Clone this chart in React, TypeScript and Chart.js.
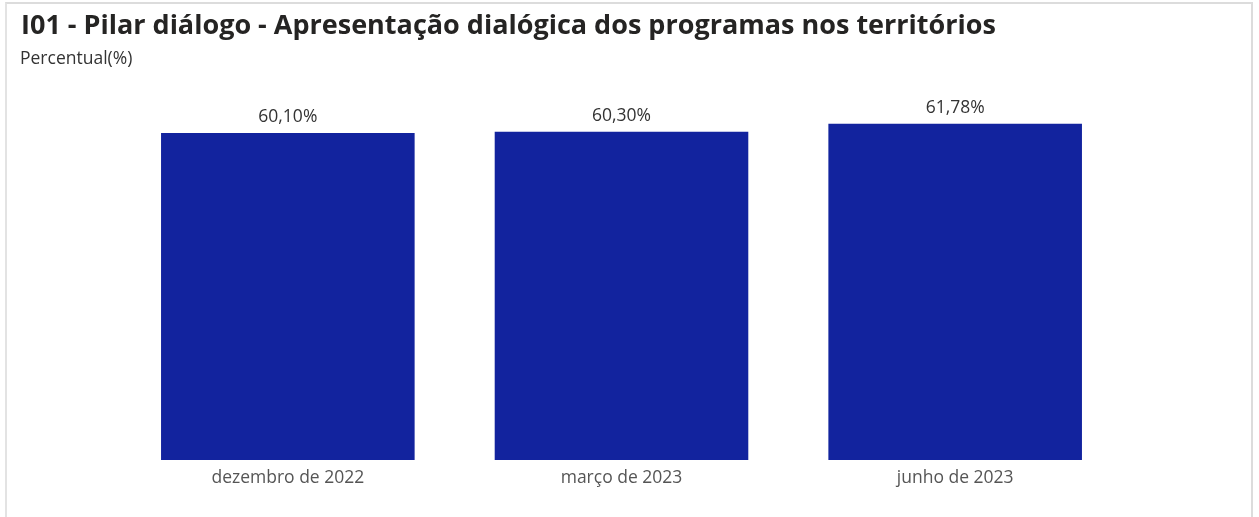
import React, { useEffect, useRef } from "react";
import { Chart, registerables } from "chart.js";

Chart.register(...registerables);

const TITLE = "I01 - Pilar diálogo - Apresentação dialógica dos programas nos territórios";
const SUBTITLE = "Percentual(%)";
const categories = ["dezembro de 2022", "março de 2023", "junho de 2023"];
const values = [60.1, 60.3, 61.78];
const valueLabels = ["60,10%", "60,30%", "61,78%"];

const FONT = "'Open Sans', 'Noto Sans', sans-serif";

const dataLabelPlugin = {
  id: "dataLabels",
  afterDatasetsDraw(chart: any) {
    const ctx = chart.ctx;
    const meta = chart.getDatasetMeta(0);
    ctx.save();
    ctx.font = `17.5px ${FONT}`;
    ctx.fillStyle = "#333333";
    ctx.textAlign = "center";
    ctx.textBaseline = "middle";
    meta.data.forEach((bar: any, i: number) => {
      ctx.fillText(valueLabels[i], bar.x, bar.y - 16);
    });
    ctx.restore();
  },
};

export default function App() {
  const ref = useRef<HTMLCanvasElement>(null);
  useEffect(() => {
    if (!ref.current) return;
    const chart = new Chart(ref.current, {
      type: "bar",
      data: {
        labels: categories,
        datasets: [
          {
            data: values,
            backgroundColor: "#12239E",
            borderWidth: 0,
            barPercentage: 0.76,
            categoryPercentage: 1,
          },
        ],
      },
      options: {
        animation: false,
        responsive: false,
        maintainAspectRatio: false,
        layout: { padding: { left: 121, right: 137, top: 79, bottom: 20 } },
        plugins: {
          legend: { display: false },
          tooltip: { enabled: false },
          title: { display: false },
        },
        scales: {
          x: {
            grid: { display: false, drawTicks: false },
            border: { display: false },
            ticks: { color: "#555555", font: { size: 17.5, family: FONT }, padding: 8 },
          },
          y: { display: false, min: 0, max: 70 },
        },
      },
      plugins: [dataLabelPlugin],
    });
    return () => chart.destroy();
  }, []);

  return (
    <div style={{ position: "fixed", left: 0, top: 0, width: 1259, height: 517, background: "#fff", overflow: "hidden" }}>
      <div
        style={{
          position: "absolute",
          left: 5,
          top: 2,
          width: 1244,
          height: 530,
          borderTop: "2px solid #dcdcdc",
          borderLeft: "2px solid #e3e3e3",
          borderRight: "2px solid #dcdcdc",
        }}
      />
      <canvas ref={ref} width={1259} height={517} style={{ position: "absolute", left: 0, top: 0 }} />
      <div
        style={{
          position: "absolute",
          left: 21,
          top: 5,
          fontFamily: FONT,
          fontWeight: 700,
          fontSize: 27,
          lineHeight: "37px",
          color: "#252423",
          whiteSpace: "nowrap",
        }}
      >
        {TITLE}
      </div>
      <div
        style={{
          position: "absolute",
          left: 20,
          top: 45,
          fontFamily: FONT,
          fontSize: 17.5,
          lineHeight: "24px",
          color: "#333333",
          whiteSpace: "nowrap",
        }}
      >
        {SUBTITLE}
      </div>
    </div>
  );
}
